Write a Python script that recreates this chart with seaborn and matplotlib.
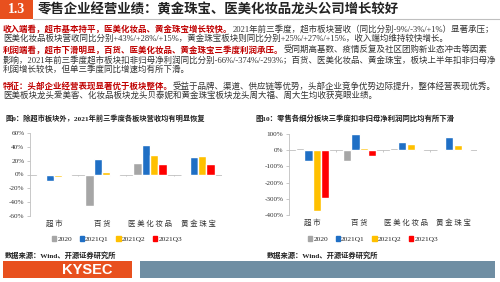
import matplotlib
matplotlib.use("Agg")
import matplotlib.pyplot as plt
from matplotlib.patches import Rectangle, Patch
from matplotlib.ticker import FuncFormatter, FixedLocator
import seaborn as sns
import pandas as pd

sns.set_style("white")
FAM = ['Liberation Serif', 'Noto Sans CJK SC']
plt.rcParams['font.family'] = FAM
plt.rcParams['axes.unicode_minus'] = False

# ---------------- data ----------------
categories = ['超市', '百货', '医美化妆品', '黄金珠宝']
series = ['2020', '2021Q1', '2021Q2', '2021Q3']
rev_2020 = [0.5, -46, 17, 0]
rev_q1 = [-9, 23, 43, 25]
rev_q2 = [-3, 4, 28, 27]
rev_q3 = [1, -2, 15, 15]
prof_2020 = [12, -68, 12, 1]
prof_q1 = [-66, 100, 53, 80]
prof_q2 = [-374, 13, 38, 30]
prof_q3 = [-293, -35, -7, -2]
colors = ['#a6a6a6', '#1f6fc5', '#ffc000', '#ff0000']

title_no = '1.3'
title = '零售企业经营业绩：黄金珠宝、医美化妆品龙头公司增长较好'
paras = [
    ('收入端看，超市基本持平，医美化妆品、黄金珠宝增长较快。', '2021年前三季度，超市板块营收（同比分别-9%/-3%/+1%）显著承压；'),
    ('', '医美化妆品板块营收同比分别+43%/+28%/+15%，黄金珠宝板块则同比分别+25%/+27%/+15%，收入端均维持较快增长。'),
    ('利润端看，超市下滑明显，百货、医美化妆品、黄金珠宝三季度利润承压。', '受同期高基数、疫情反复及社区团购新业态冲击等因素'),
    ('', '影响，2021年前三季度超市板块扣非归母净利润同比分别-66%/-374%/-293%；百货、医美化妆品、黄金珠宝，板块上半年扣非归母净'),
    ('', '利润增长较快，但单三季度同比增速均有所下滑。'),
    ('特征：头部企业经营表现显著优于板块整体。', '受益于品牌、渠道、供应链等优势，头部企业竞争优势边际提升，整体经营表现优秀。'),
    ('', '医美板块龙头爱美客、化妆品板块龙头贝泰妮和黄金珠宝板块龙头周大福、周大生均收获亮眼业绩。'),
]
para_y = [29, 39, 50, 60, 70, 86, 96]
cap1 = '图9：除超市板块外，2021年前三季度各板块营收均有明显恢复'
cap2 = '图10：零售各细分板块三季度扣非归母净利润同比均有所下滑'
source = '数据来源：Wind、开源证券研究所'

W, H = 500, 282
fig = plt.figure(figsize=(5.0, 2.82), dpi=100)
bg = fig.add_axes([0, 0, 1, 1])
bg.set_xlim(0, W)
bg.set_ylim(H, 0)
bg.axis('off')

RED = '#c00000'
TXT = '#333333'
ORANGE = '#e8501e'

fig.canvas.draw()
renderer = fig.canvas.get_renderer()
inv = bg.transData.inverted()


def right_edge(t):
    bb = t.get_window_extent(renderer=renderer)
    return inv.transform((bb.x1, bb.y0))[0]


def fit_text(x, y, s, x_end, fs, **kw):
    t = bg.text(x, y, s, ha='left', va='center', fontsize=fs, **kw)
    w = right_edge(t) - x
    t.set_fontsize(fs * (x_end - x) / w)
    return t


def seg_text(x, y, s, **kw):
    t = bg.text(x, y, s, ha='left', va='center', **kw)
    return right_edge(t)

# title bar
bg.add_patch(Rectangle((0, 0), 33, 19, color=ORANGE, lw=0))
bg.text(16.5, 9.8, title_no, color='white', fontsize=10, fontweight='bold', ha='center', va='center', family=FAM)
fit_text(38, 9.8, title, 400, 9, color='#222222', fontweight='bold', family=['Noto Sans CJK SC'])
bg.plot([33, 500], [19, 19], color='#bfbfbf', lw=0.8)

fs_body = 6.1
for (red, rest), y in zip(paras, para_y):
    x = 3
    if red:
        x = seg_text(x, y, red, color=RED, fontsize=fs_body, fontweight='bold', family=['Noto Sans CJK SC'])
    seg_text(x, y, rest, color=TXT, fontsize=fs_body, family=FAM)

cap_kw = dict(color='#222222', fontweight='bold', family=FAM)
fit_text(5, 118, cap1, 204, 5.5, **cap_kw)
fit_text(255, 118, cap2, 455, 5.5, **cap_kw)
fit_text(5, 255, source, 117, 5.5, **cap_kw)
fit_text(267, 255, source, 379, 5.5, **cap_kw)

# footer
bg.add_patch(Rectangle((3, 261), 129, 17, color=ORANGE, lw=0))
bg.text(87, 269.5, 'KYSEC', color='white', fontsize=10.5, fontweight='bold', ha='center', va='center', family=['Liberation Sans'])
bg.add_patch(Rectangle((140, 261), 355, 17, color='#6f8ea3', lw=0))


def make_df(vals):
    rows = []
    for s, v in zip(series, vals):
        for c, val in zip(categories, v):
            rows.append({'cat': c, 'series': s, 'value': val})
    return pd.DataFrame(rows)


def draw_chart(rect, df, ylim, yticks, legend_x):
    ax = fig.add_axes(rect)
    sns.barplot(data=df, x='cat', y='value', hue='series', palette=colors, width=0.7,
                saturation=1, ax=ax, legend=False, order=categories, hue_order=series)
    ax.set_xlim(-0.5, 3.5)
    ax.set_ylim(*ylim)
    ax.set_xlabel('')
    ax.set_ylabel('')
    for s in ['top', 'right', 'bottom']:
        ax.spines[s].set_visible(False)
    ax.spines['left'].set_color('#bfbfbf')
    ax.spines['left'].set_linewidth(0.6)
    ax.axhline(0, color='#bfbfbf', lw=0.6, zorder=0.5)
    yr = ylim[1] - ylim[0]
    ax.vlines([0.5, 1.5, 2.5, 3.5], 0, -yr * 0.02, color='#bfbfbf', lw=0.6)
    ax.yaxis.set_major_locator(FixedLocator(yticks))
    ax.yaxis.set_major_formatter(FuncFormatter(lambda v, p: f'{int(v)}%'))
    ax.tick_params(axis='y', which='major', left=True, length=2.5, width=0.6, color='#bfbfbf',
                   labelsize=5.2, labelcolor='#333333', pad=1.5)
    ax.tick_params(axis='x', length=0, labelsize=5.4, labelcolor='#333333', pad=3)
    ax.set_xticks(range(4))
    ax.set_xticklabels([' '.join(c) for c in categories], family=['Noto Sans CJK SC'])
    handles = [Patch(color=c, label=s) for c, s in zip(colors, series)]
    fig.legend(handles=handles, loc='center', bbox_to_anchor=(legend_x / W, 1 - 239 / H), ncol=4,
               frameon=False, fontsize=5.4, handlelength=0.55, handleheight=0.55, handletextpad=0.2,
               columnspacing=1.0, borderaxespad=0)
    return ax

rev_df = make_df([rev_2020, rev_q1, rev_q2, rev_q3])
prof_df = make_df([prof_2020, prof_q1, prof_q2, prof_q3])

draw_chart([30 / W, 1 - 216 / H, 192 / W, 83 / H], rev_df, (-60, 60),
           [-60, -40, -20, 0, 20, 40, 60], 117)
draw_chart([289 / W, 1 - 215 / H, 188 / W, 81 / H], prof_df, (-400, 100),
           [-400, -300, -200, -100, 0, 100], 373)

fig.savefig('out.png', dpi=100)
